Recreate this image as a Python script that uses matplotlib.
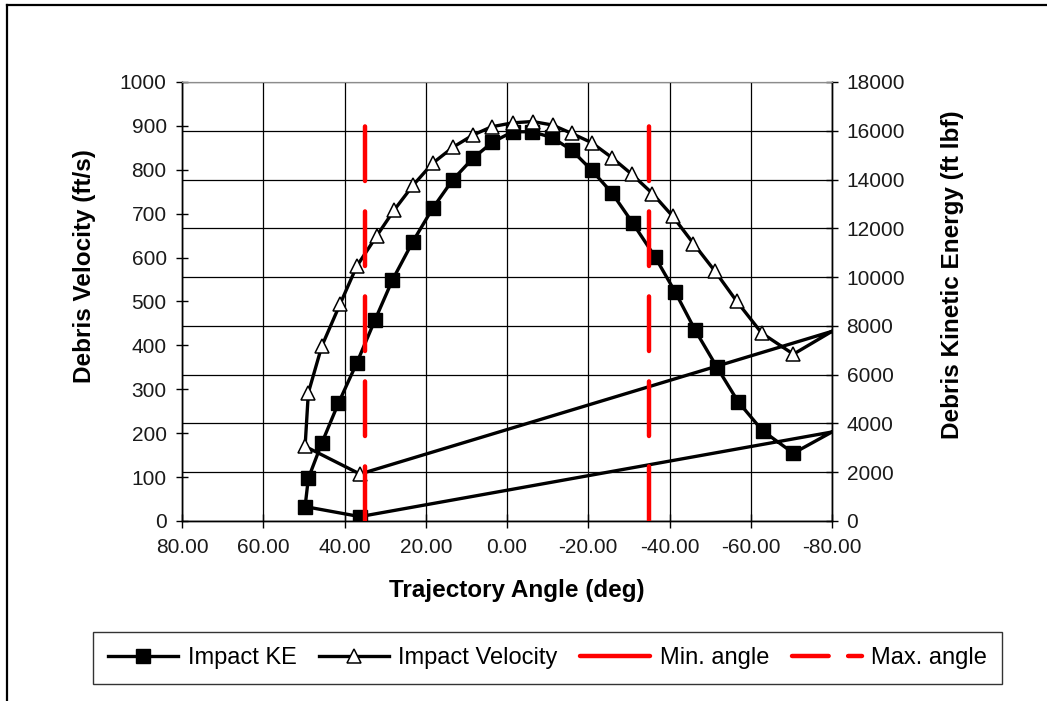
import numpy as np
import matplotlib
matplotlib.use("Agg")
import matplotlib.pyplot as plt
from matplotlib.lines import Line2D
from matplotlib.ticker import FormatStrFormatter

plt.rcParams['font.family'] = ['Liberation Sans', 'DejaVu Sans']

# Impact velocity series (ft/s) vs trajectory angle (deg), in plotting order
vel_angle = [-80.0, 36.2, 49.7, 48.9, 45.6, 41.1, 37.0, 32.1, 27.8, 23.1, 18.3, 13.2,
             8.4, 3.8, -1.4, -6.3, -11.2, -15.9, -20.8, -25.8, -30.7, -35.8,
             -40.8, -45.9, -51.2, -56.5, -62.7, -70.5, -80.0]
vel_fts = [432, 107, 170, 292, 398, 494, 580, 649, 708, 765, 815, 852,
           879, 898, 907, 910, 902, 883, 862, 828, 790, 746,
           694, 632, 569, 501, 428, 380, 432]

# Impact kinetic energy series (ft lbf), secondary axis
ke_angle = [-80.0, 36.2, 49.7, 48.9, 45.6, 41.5, 37.0, 32.5, 28.2, 23.2, 18.3, 13.4,
            8.4, 3.6, -1.4, -6.1, -11.0, -15.9, -20.8, -25.8, -30.9, -36.4,
            -41.4, -46.3, -51.6, -56.9, -62.9, -70.5, -80.0]
ke_ftlbf = [3650, 180, 590, 1750, 3190, 4830, 6470, 8240, 9880, 11450, 12820, 13980,
            14870, 15530, 15960, 15960, 15730, 15210, 14390, 13460, 12230, 10840,
            9390, 7830, 6330, 4890, 3700, 2780, 3650]

# angle limits (deg) and the height the marker lines reach (ft/s)
min_angle = 35.0
max_angle = -35.0
angle_line_top = 905

x_ticks = [80, 60, 40, 20, 0, -20, -40, -60, -80]

fig = plt.figure(figsize=(10.47, 7.01), dpi=100)
ax = fig.add_axes([182/1047, 180/701, 650/1047, 439/701])
ax2 = ax.twinx()
ax.set_zorder(ax2.get_zorder() + 1)
ax.patch.set_visible(False)
ax2.patch.set_visible(False)

lw_blk = 2.4
ms_sq = 10
ms_tri = 10
ax2.plot(ke_angle, ke_ftlbf, color='black', lw=lw_blk, marker='s', ms=ms_sq,
         mfc='black', mec='black', markevery=slice(1, -1), solid_joinstyle='round')
ax.plot(vel_angle, vel_fts, color='black', lw=lw_blk, marker='^', ms=ms_tri,
        mfc='white', mec='black', mew=1.1, markevery=slice(1, -1), solid_joinstyle='round')

red_lw = 3.2
red_dash = [39.3 / red_lw, 21.9 / red_lw]
for xa in (min_angle, max_angle):
    ax.plot([xa, xa], [0, angle_line_top], color='#ff0000', lw=red_lw,
            dashes=red_dash, dash_capstyle='round', solid_capstyle='round', zorder=5)

ax.set_xlim(80, -80)
ax.set_ylim(0, 1000)
ax2.set_ylim(0, 18000)
ax.set_xticks(x_ticks)
ax.xaxis.set_major_formatter(FormatStrFormatter('%.2f'))
ax.set_yticks(np.arange(0, 1001, 100))
ax2.set_yticks(np.arange(0, 18001, 2000))

ax.xaxis.grid(True, color='black', lw=0.9)
ax2.yaxis.grid(True, color='black', lw=0.9)
ax.set_axisbelow(True)
ax2.set_axisbelow(True)

tick_col = '#1a1a1a'
tick_fs = 15
ax.tick_params(axis='y', direction='inout', length=9, width=1, pad=6.5, labelsize=tick_fs,
               labelcolor=tick_col)
ax.tick_params(axis='x', direction='inout', length=10, width=1, pad=7, labelsize=tick_fs,
               labelcolor=tick_col)
ax2.tick_params(axis='y', direction='inout', length=9, width=1, pad=6, labelsize=tick_fs,
                labelcolor=tick_col)

for a in (ax, ax2):
    a.spines['top'].set_color('#8c8c8c')
    for s in ('left', 'right', 'bottom'):
        a.spines[s].set_color('black')
        a.spines[s].set_linewidth(1.0)

lab_fs = 17.5
ax.set_ylabel('Debris Velocity (ft/s)', fontsize=lab_fs, fontweight='bold', va='center')
ax.yaxis.set_label_coords(-0.15, 0.58)
ax2.set_ylabel('Debris Kinetic Energy (ft lbf)', fontsize=lab_fs, fontweight='bold',
               va='center', rotation=90)
ax2.yaxis.set_label_coords(1.186, 0.56)
ax.set_xlabel('Trajectory Angle (deg)', fontsize=lab_fs, fontweight='bold', va='center')
ax.xaxis.set_label_coords(0.515, -0.159)

ke_proxy = Line2D([], [], color='black', lw=lw_blk, marker='s', ms=ms_sq,
                  mfc='black', mec='black')
vel_proxy = Line2D([], [], color='black', lw=lw_blk, marker='^', ms=ms_tri,
                   mfc='white', mec='black', mew=1.1)
min_proxy = Line2D([], [], color='#ff0000', lw=red_lw, solid_capstyle='round')
max_proxy = Line2D([], [], color='#ff0000', lw=red_lw, dashes=[26.4 / red_lw, 14.0 / red_lw],
                   dash_capstyle='round')
leg = fig.legend([ke_proxy, vel_proxy, min_proxy, max_proxy],
                 ['Impact KE', 'Impact Velocity', 'Min. angle', 'Max. angle'],
                 loc='center', bbox_to_anchor=(547.5/1047, 1 - 658/701), ncol=4,
                 numpoints=1, fontsize=17, frameon=True, fancybox=False, edgecolor='black',
                 handlelength=2.97, handletextpad=0.4, columnspacing=0.95,
                 borderpad=0.62, borderaxespad=0)
leg.get_frame().set_linewidth(1.0)

# outer chart border
fig.add_artist(Line2D([7/1047, 1], [1 - 5/701, 1 - 5/701], color='black', lw=1.6,
                      transform=fig.transFigure))
fig.add_artist(Line2D([7/1047, 7/1047], [0, 1 - 5/701], color='black', lw=1.6,
                      transform=fig.transFigure))

fig.savefig('out.png', dpi=100)
